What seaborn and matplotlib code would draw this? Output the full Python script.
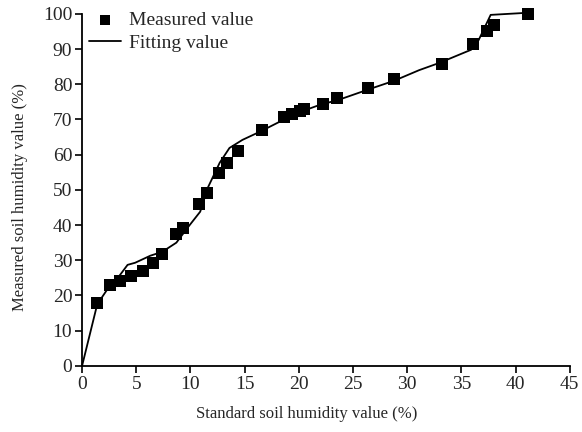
import matplotlib
matplotlib.use("Agg")
import matplotlib.pyplot as plt
import seaborn as sns
import pandas as pd

sns.set_style("ticks")
plt.rcParams['font.family'] = ['Liberation Serif', 'DejaVu Serif']

meas_x = [1.4, 2.6, 3.5, 4.5, 5.6, 6.5, 7.4, 8.7, 9.3, 10.8, 11.5, 12.6, 13.4, 14.4,
          16.6, 18.6, 19.4, 20.1, 20.5, 22.2, 23.5, 26.4, 28.8, 33.2, 36.1, 37.4, 38.0, 41.1]
meas_y = [18.0, 23.0, 24.2, 25.6, 27.0, 29.3, 31.9, 37.6, 39.3, 46.0, 49.0, 54.7, 57.5, 61.0,
          67.0, 70.7, 71.5, 72.4, 73.0, 74.4, 76.0, 79.0, 81.5, 85.8, 91.4, 95.2, 96.9, 100.0]

fit_x = [0, 1.4, 2.3, 3.3, 4.2, 4.9, 6.3, 7.4, 8.7, 9.8, 10.9, 11.6, 12.7, 13.6, 14.8,
         16.4, 18.2, 20.0, 21.9, 23.7, 26.4, 28.8, 31.1, 33.0, 35.9, 36.6, 37.7, 41.1]
fit_y = [0, 17.5, 21.6, 25.0, 28.7, 29.3, 31.3, 32.4, 35.0, 39.5, 43.8, 50.6, 57.7, 61.9, 64.2,
         66.5, 69.3, 72.0, 74.1, 75.6, 78.5, 81.0, 84.0, 86.1, 89.8, 92.6, 99.7, 100.3]

meas = pd.DataFrame({"x": meas_x, "y": meas_y})
fit = pd.DataFrame({"x": fit_x, "y": fit_y})

fig = plt.figure(figsize=(5.82, 4.32), dpi=100)
ax = fig.add_axes([0.141, 0.153, 0.838, 0.815])

sns.lineplot(data=fit, x="x", y="y", ax=ax, color="black", linewidth=1.3,
             label="Fitting value", sort=False, zorder=2)
sns.scatterplot(data=meas, x="x", y="y", ax=ax, marker="s", s=80, color="black",
                edgecolor="black", linewidth=0, label="Measured value", zorder=3,
                clip_on=False)
for ln in ax.lines:
    ln.set_clip_on(False)

ax.set_xlim(0, 45)
ax.set_ylim(0, 100)
ax.set_xticks(range(0, 46, 5))
ax.set_yticks(range(0, 101, 10))
ax.set_xlabel("Standard soil humidity value (%)", fontsize=12)
ax.set_ylabel("Measured soil humidity value (%)", fontsize=12)
ax.xaxis.set_label_coords((306 - 82) / 486, -0.136)
ax.yaxis.set_label_coords(-0.128, (366 - 197) / 352)
ax.xaxis.label.set_va("center")
ax.yaxis.label.set_va("center")
ax.tick_params(labelsize=14, direction="out", length=5, width=1.2, color="black", pad=2)
for sp in ["left", "bottom"]:
    ax.spines[sp].set_linewidth(1.3)
    ax.spines[sp].set_color("black")
sns.despine(ax=ax)

handles, labels = ax.get_legend_handles_labels()
order = [labels.index("Measured value"), labels.index("Fitting value")]
leg = ax.legend([handles[i] for i in order], [labels[i] for i in order],
                loc="upper left", bbox_to_anchor=(89 / 582, 1 - 11 / 432),
                bbox_transform=fig.transFigure, frameon=False, fontsize=14,
                handlelength=1.65, handletextpad=0.4, labelspacing=0.3,
                borderaxespad=0, borderpad=0, markerscale=0.8)

fig.savefig("out.png", dpi=100)
